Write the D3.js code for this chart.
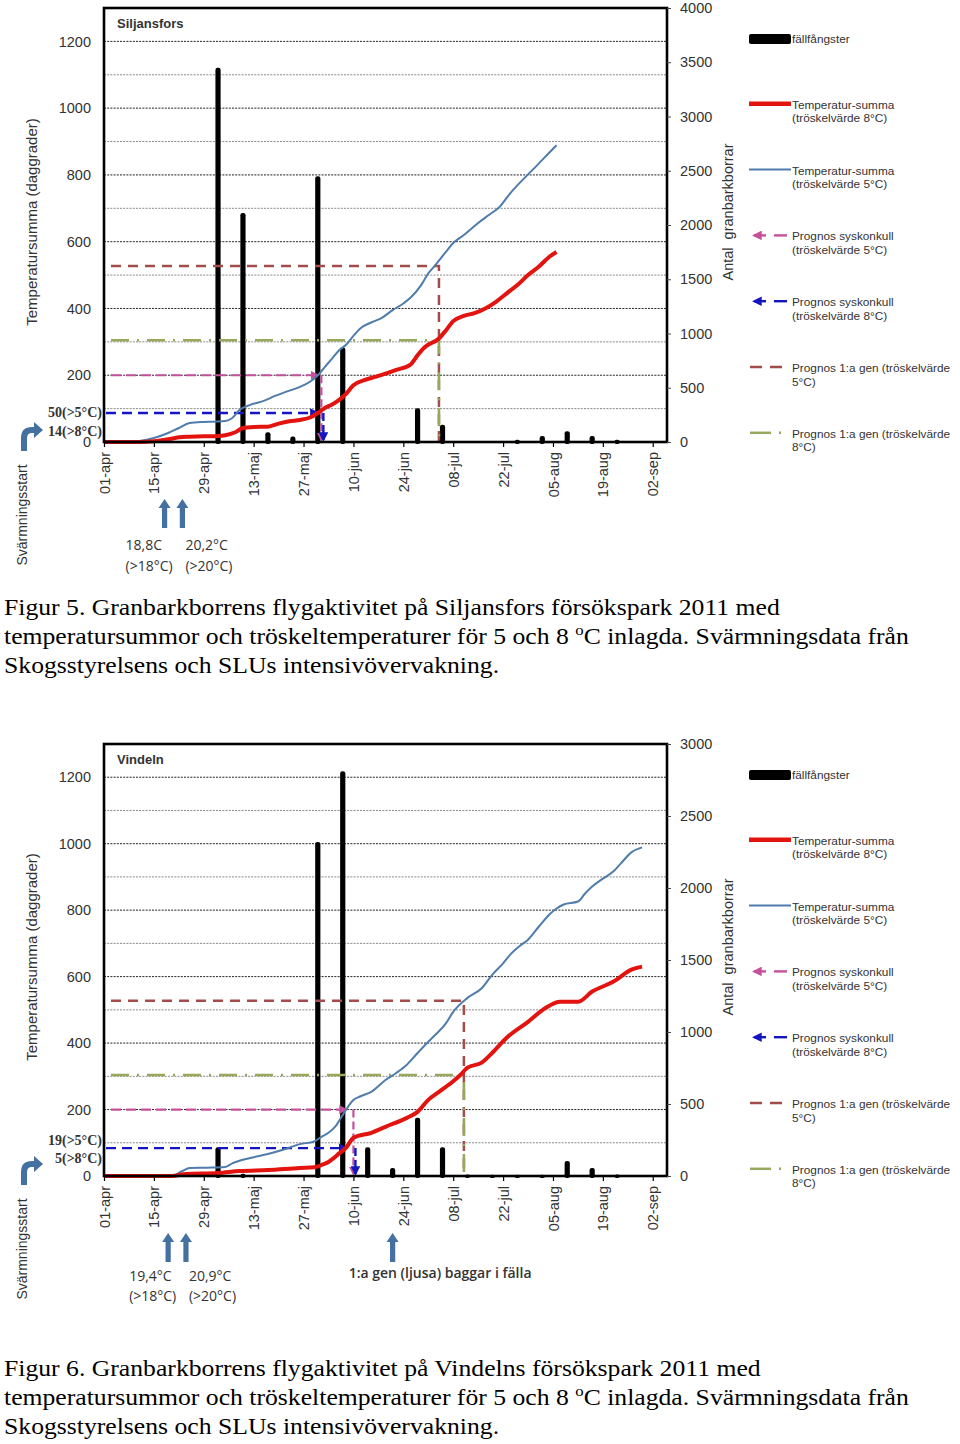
<!DOCTYPE html>
<html><head><meta charset="utf-8">
<script src="https://cdn.jsdelivr.net/npm/d3@7"></script>
<style>body{margin:0;background:#fff} svg{display:block}</style>
</head><body>
<svg id="c" width="960" height="1444"></svg>
<script>
// ---------- data ----------
const xTickLabels = ["01-apr","15-apr","29-apr","13-maj","27-maj","10-jun","24-jun","08-jul","22-jul","05-aug","19-aug","02-sep"];
const leftTicks = [0,200,400,600,800,1000,1200];
const gridValues = [100,200,300,400,500,600,700,800,900,1000,1100,1200];
const siljRightTicks = [0,500,1000,1500,2000,2500,3000,3500,4000];
const vindRightTicks = [0,500,1000,1500,2000,2500,3000];

const siljTraps = [["2011-05-03",3450],["2011-05-10",2110],["2011-05-17",90],["2011-05-24",50],["2011-05-31",2450],["2011-06-07",870],["2011-06-28",310],["2011-07-05",160],["2011-07-26",20],["2011-08-02",55],["2011-08-09",100],["2011-08-16",55],["2011-08-23",20]];
const siljTemp5 = [["2011-04-01",0],["2011-04-08",0],["2011-04-11",3],["2011-04-15",12],["2011-04-19",27],["2011-04-22",42],["2011-04-25",57],["2011-04-29",60],["2011-05-02",61],["2011-05-05",63],["2011-05-07",72],["2011-05-09",96],["2011-05-12",111],["2011-05-16",124],["2011-05-19",138],["2011-05-22",150],["2011-05-26",165],["2011-05-29",182],["2011-05-31",200],["2011-06-02",225],["2011-06-04",250],["2011-06-06",275],["2011-06-08",292],["2011-06-10",318],["2011-06-12",341],["2011-06-15",358],["2011-06-18",372],["2011-06-21",395],["2011-06-24",415],["2011-06-26",432],["2011-06-29",470],["2011-07-01",505],["2011-07-03",530],["2011-07-06",570],["2011-07-08",596],["2011-07-11",620],["2011-07-15",656],["2011-07-18",680],["2011-07-21",704],["2011-07-24",745],["2011-07-27",780],["2011-07-30",812],["2011-08-02",845],["2011-08-06",889]];
const siljTemp8 = [["2011-04-01",0],["2011-04-11",0],["2011-04-15",2],["2011-04-19",8],["2011-04-22",14],["2011-04-25",16],["2011-04-29",17],["2011-05-02",17],["2011-05-05",20],["2011-05-08",30],["2011-05-10",42],["2011-05-13",45],["2011-05-17",46],["2011-05-20",55],["2011-05-23",62],["2011-05-26",66],["2011-05-29",74],["2011-05-31",87],["2011-06-02",102],["2011-06-04",112],["2011-06-06",126],["2011-06-08",145],["2011-06-10",170],["2011-06-13",185],["2011-06-16",195],["2011-06-19",205],["2011-06-22",216],["2011-06-26",232],["2011-06-28",260],["2011-06-30",284],["2011-07-04",310],["2011-07-06",335],["2011-07-08",362],["2011-07-11",378],["2011-07-14",386],["2011-07-17",400],["2011-07-20",420],["2011-07-23",445],["2011-07-26",470],["2011-07-29",500],["2011-08-01",525],["2011-08-04",555],["2011-08-06",569]];
const siljSyskLevels = [200, 87];               // 5°C, 8°C
const siljSyskDates = ["2011-05-31","2011-06-01"]; // meets curve, drop line
const siljGen1Levels = [527, 305];              // 5°C, 8°C
const siljGen1Date = "2011-07-04";
const siljArrowDates = ["2011-04-18","2011-04-23"];
const siljArrowTexts = [["18,8C","(>18°C)"],["20,2°C","(>20°C)"]];
const siljSideLabels = ["50(>5°C)","14(>8°C)"];

const vindTraps = [["2011-05-03",200],["2011-05-10",15],["2011-05-31",2320],["2011-06-07",2810],["2011-06-14",200],["2011-06-21",55],["2011-06-28",405],["2011-07-05",200],["2011-07-12",10],["2011-07-19",8],["2011-07-26",8],["2011-08-02",8],["2011-08-09",105],["2011-08-16",55],["2011-08-23",10]];
const vindTemp5 = [["2011-04-01",0],["2011-04-20",0],["2011-04-23",15],["2011-04-25",24],["2011-04-30",25],["2011-05-05",27],["2011-05-07",38],["2011-05-12",54],["2011-05-17",66],["2011-05-21",78],["2011-05-26",96],["2011-05-30",104],["2011-06-01",118],["2011-06-03",130],["2011-06-05",150],["2011-06-07",184],["2011-06-10",229],["2011-06-12",240],["2011-06-15",253],["2011-06-19",289],["2011-06-22",310],["2011-06-25",335],["2011-06-28",370],["2011-07-01",404],["2011-07-03",425],["2011-07-06",460],["2011-07-08",494],["2011-07-12",536],["2011-07-16",565],["2011-07-19",606],["2011-07-22",640],["2011-07-24",666],["2011-07-27",695],["2011-07-29",711],["2011-08-01",750],["2011-08-04",787],["2011-08-06",805],["2011-08-08",817],["2011-08-12",826],["2011-08-14",850],["2011-08-16",871],["2011-08-19",895],["2011-08-22",917],["2011-08-24",940],["2011-08-27",974],["2011-08-30",989]];
const vindTemp8 = [["2011-04-01",0],["2011-04-20",0],["2011-04-24",6],["2011-05-03",9],["2011-05-09",15],["2011-05-17",18],["2011-05-26",24],["2011-05-30",26],["2011-06-01",33],["2011-06-03",42],["2011-06-04",50],["2011-06-06",68],["2011-06-08",86],["2011-06-10",115],["2011-06-15",130],["2011-06-19",148],["2011-06-25",175],["2011-06-28",193],["2011-07-01",229],["2011-07-04",253],["2011-07-08",285],["2011-07-10",304],["2011-07-12",326],["2011-07-16",341],["2011-07-19",371],["2011-07-23",416],["2011-07-29",464],["2011-08-03",506],["2011-08-07",524],["2011-08-12",524],["2011-08-16",555],["2011-08-22",585],["2011-08-27",621],["2011-08-30",630]];
const vindSyskLevels = [200, 84];
const vindSyskDates = ["2011-06-08","2011-06-10"];
const vindGen1Levels = [527, 304];
const vindGen1Date = "2011-07-11";
const vindArrowDates = ["2011-04-19","2011-04-24","2011-06-21"];
const vindArrowTexts = [["19,4°C","(>18°C)"],["20,9°C","(>20°C)"],["1:a gen (ljusa) baggar i fälla"]];
const vindSideLabels = ["19(>5°C)","5(>8°C)"];

const legendLabels = [["fällfångster"],["Temperatur-summa","(tröskelvärde 8°C)"],["Temperatur-summa","(tröskelvärde 5°C)"],["Prognos syskonkull","(tröskelvärde 5°C)"],["Prognos syskonkull","(tröskelvärde 8°C)"],["Prognos 1:a gen (tröskelvärde","5°C)"],["Prognos 1:a gen (tröskelvärde","8°C)"]];

const caption5 = ["Figur 5. Granbarkborrens flygaktivitet på Siljansfors försökspark 2011 med","temperatursummor och tröskeltemperaturer för 5 och 8 ","C inlagda. Svärmningsdata från","Skogsstyrelsens och SLUs intensivövervakning."];
const caption6 = ["Figur 6. Granbarkborrens flygaktivitet på Vindelns försökspark 2011 med","temperatursummor och tröskeltemperaturer för 5 och 8 ","C inlagda. Svärmningsdata från","Skogsstyrelsens och SLUs intensivövervakning."];

// ---------- helpers ----------
const monthIndex = {apr:3,maj:4,jun:5,jul:6,aug:7,sep:8};
const parseLabel = s => { const [d,m] = s.split("-"); return new Date(2011, monthIndex[m], +d); };
const parseDate = d3.timeParse("%Y-%m-%d");
const C = {red:"#e3140f", blue:"#4f7cab", pink:"#c5509c", dblue:"#1515c0", brown:"#a24c4c", green:"#97a85c", arrow:"#44719f", text:"#333"};
const SANS = "'Liberation Sans', Arial, sans-serif";

const svg = d3.select("#c");
const defs = svg.append("defs");
function marker(id, color){
  defs.append("marker").attr("id",id).attr("viewBox","0 0 10 10").attr("refX",8).attr("refY",5)
    .attr("markerWidth",4).attr("markerHeight",4).attr("orient","auto-start-reverse")
    .append("path").attr("d","M0,0 L10,5 L0,10 z").attr("fill",color);
}
marker("mPink",C.pink); marker("mBlue",C.dblue);

function drawChart(cfg){
  const {top,bottom} = cfg, left = 104, right = 667;
  const g = svg.append("g");
  const x = d3.scaleTime().domain([new Date(2011,3,1), new Date(2011,8,6)]).range([left,right]);
  const yL = d3.scaleLinear().domain([0,1300]).range([bottom,top]);
  const yR = d3.scaleLinear().domain([0,cfg.rightTicks[cfg.rightTicks.length-1]]).range([bottom,top]);
  const X = s => x(parseDate(s));

  // grid
  g.append("g").selectAll("line").data(gridValues).join("line")
    .attr("x1",left).attr("x2",right).attr("y1",d=>yL(d)).attr("y2",d=>yL(d))
    .attr("stroke",d=>d%200===0?"#222":"#8a8a8a").attr("stroke-width",1).attr("stroke-dasharray","2,1.2");

  // bars
  g.append("g").selectAll("rect").data(cfg.traps).join("rect")
    .attr("x",d=>X(d[0])-2.6).attr("width",5.2)
    .attr("y",d=>yR(d[1])).attr("height",d=>bottom-yR(d[1])+2).attr("rx",2.2).attr("fill","#000");

  // prognosis lines
  const pg = g.append("g").attr("fill","none");
  const [s5,s8] = cfg.syskLevels, [meet,drop] = cfg.syskDates;
  const [g5,g8] = cfg.gen1Levels, gx = X(cfg.gen1Date);
  pg.append("path").attr("d",`M${left+7},${yL(g5)}H${gx}V${bottom}`).attr("stroke",C.brown).attr("stroke-width",2.5).attr("stroke-dasharray","10,7");
  pg.append("path").attr("d",`M${left+7},${yL(g8)}H${gx}V${bottom}`).attr("stroke",C.green).attr("stroke-width",2.6).attr("stroke-dasharray","18,8,2,8");
  pg.append("path").attr("d",`M${left+7},${yL(s5)}H${X(meet)}`).attr("stroke",C.pink).attr("stroke-width",2.2).attr("stroke-dasharray","10,5").attr("marker-end","url(#mPink)");
  pg.append("path").attr("d",`M${X(drop)},${yL(s5)}V${bottom-2}`).attr("stroke",C.pink).attr("stroke-width",2.2).attr("stroke-dasharray","8,4").attr("marker-end","url(#mPink)");
  pg.append("path").attr("d",`M${left+2},${yL(s8)}H${X(meet)}`).attr("stroke",C.dblue).attr("stroke-width",2.4).attr("stroke-dasharray","10,6").attr("marker-end","url(#mBlue)");
  pg.append("path").attr("d",`M${X(drop)+2},${yL(s8)}V${bottom-2}`).attr("stroke",C.dblue).attr("stroke-width",2.4).attr("stroke-dasharray","8,4").attr("marker-end","url(#mBlue)");

  // temperature sums
  const line = d3.line().x(d=>X(d[0])).y(d=>yL(d[1])).curve(d3.curveMonotoneX);
  g.append("path").datum(cfg.temp5).attr("d",line).attr("fill","none").attr("stroke",C.blue).attr("stroke-width",2);
  g.append("path").datum(cfg.temp8).attr("d",line).attr("fill","none").attr("stroke",C.red).attr("stroke-width",4).attr("stroke-linejoin","round");

  // frame
  g.append("rect").attr("x",left).attr("y",top).attr("width",right-left).attr("height",bottom-top)
    .attr("fill","none").attr("stroke","#000").attr("stroke-width",2.6);

  // axes
  const ax = g.append("g").attr("transform",`translate(0,${bottom})`)
    .call(d3.axisBottom(x).tickValues(xTickLabels.map(parseLabel)).tickFormat((d,i)=>xTickLabels[i]).tickSize(5).tickPadding(4));
  ax.select(".domain").remove();
  ax.selectAll("line").attr("stroke","#000").attr("stroke-width",1.2);
  ax.selectAll("text").attr("transform","rotate(-90)").attr("text-anchor","end")
    .attr("x",-10).attr("y",0).attr("dy","0.35em").attr("font-size",14.5).attr("font-family",SANS).attr("fill",C.text);

  const al = g.append("g").attr("transform",`translate(${left},0)`)
    .call(d3.axisLeft(yL).tickValues(leftTicks).tickFormat(d3.format("d")).tickSize(0).tickPadding(13));
  al.select(".domain").remove();
  al.selectAll("text").attr("font-size",14.5).attr("font-family",SANS).attr("fill",C.text);

  const ar = g.append("g").attr("transform",`translate(${right},0)`)
    .call(d3.axisRight(yR).tickValues(cfg.rightTicks).tickFormat(d3.format("d")).tickSize(4).tickPadding(9));
  ar.select(".domain").remove();
  ar.selectAll("line").attr("stroke","#444");
  ar.selectAll("text").attr("font-size",14.5).attr("font-family",SANS).attr("fill",C.text);

  // titles
  g.append("text").attr("x",117).attr("y",top+20).text(cfg.title)
    .attr("font-family",SANS).attr("font-weight","bold").attr("font-size",13).attr("fill","#333");
  g.append("text").attr("transform",`translate(37,${(top+bottom)/2-3}) rotate(-90)`).attr("text-anchor","middle")
    .text("Temperatursumma (daggrader)").attr("font-family",SANS).attr("font-size",15).attr("fill",C.text);
  g.append("text").attr("transform",`translate(733,${(top+bottom)/2-13}) rotate(-90)`).attr("text-anchor","middle")
    .attr("xml:space","preserve").text("Antal  granbarkborrar").attr("font-family",SANS).attr("font-size",14.5).attr("fill",C.text);

  // legend
  const lx = 749;
  legendLabels.forEach((lab,i)=>{
    const cy = top + 31 + i*65.8;
    const lg = g.append("g");
    if(i===0) lg.append("rect").attr("x",lx).attr("y",cy-5).attr("width",42).attr("height",10).attr("rx",2).attr("fill","#000");
    if(i===1) lg.append("line").attr("x1",lx).attr("x2",lx+42).attr("y1",cy-1).attr("y2",cy-1).attr("stroke",C.red).attr("stroke-width",4.5);
    if(i===2) lg.append("line").attr("x1",lx).attr("x2",lx+42).attr("y1",cy-1).attr("y2",cy-1).attr("stroke",C.blue).attr("stroke-width",2);
    if(i===3||i===4){
      const col = i===3?C.pink:C.dblue;
      lg.append("line").attr("x1",lx+17).attr("x2",lx+5).attr("y1",cy-1).attr("y2",cy-1).attr("stroke",col).attr("stroke-width",2.4).attr("marker-end",`url(#${i===3?"mPink":"mBlue"})`);
      lg.append("line").attr("x1",lx+25).attr("x2",lx+38).attr("y1",cy-1).attr("y2",cy-1).attr("stroke",col).attr("stroke-width",2.4);
    }
    if(i===5) lg.append("line").attr("x1",lx+1).attr("x2",lx+38).attr("y1",cy-1).attr("y2",cy-1).attr("stroke",C.brown).attr("stroke-width",2.5).attr("stroke-dasharray","12,8");
    if(i===6){
      lg.append("line").attr("x1",lx+1).attr("x2",lx+22).attr("y1",cy-1).attr("y2",cy-1).attr("stroke",C.green).attr("stroke-width",2.5);
      lg.append("line").attr("x1",lx+30).attr("x2",lx+32).attr("y1",cy-1).attr("y2",cy-1).attr("stroke",C.green).attr("stroke-width",2.5);
    }
    const t = lg.append("text").attr("x",lx+43).attr("y",cy+4).attr("font-family",SANS).attr("font-size",11.8).attr("fill",C.text);
    lab.forEach((s,j)=>t.append("tspan").attr("x",lx+43).attr("dy",j?13.5:0).text(s));
  });

  // left-side annotations
  cfg.sideLabels.forEach((s,i)=>{
    g.append("text").attr("x",102).attr("y",bottom+cfg.sideOffsets[i]).attr("dy","0.35em").attr("text-anchor","end")
      .text(s).attr("font-family","'Liberation Serif', serif").attr("font-weight","bold").attr("font-size",14).attr("fill","#333");
  });
  // curved arrow
  g.append("path").attr("d",`M24,${bottom+9} V${bottom-4} Q24,${bottom-12} 32,${bottom-12} H35`)
    .attr("fill","none").attr("stroke",C.arrow).attr("stroke-width",6);
  g.append("path").attr("d",`M34,${bottom-20} L43,${bottom-12} L34,${bottom-4} Z`).attr("fill",C.arrow);
  g.append("text").attr("transform",`translate(27,${bottom+73}) rotate(-90)`).attr("text-anchor","middle")
    .text("Svärmningsstart").attr("font-family",SANS).attr("font-size",14).attr("fill",C.text);

  // up arrows and texts
  cfg.arrowDates.forEach((d,i)=>{
    const ax0 = X(d), y0 = bottom+57, y1 = bottom+86;
    g.append("path").attr("d",`M${ax0-2.6},${y1} V${y0+9} H${ax0-6} L${ax0},${y0} L${ax0+6},${y0+9} H${ax0+2.6} V${y1} Z`).attr("fill",C.arrow);
    const lines = cfg.arrowTexts[i];
    const off = lines.length===1 ? -44 : (i===0 ? -39 : 3);
    lines.forEach((s,j)=>{
      g.append("text").attr("x",ax0+off).attr("y",bottom+(lines.length===1?102:(j?cfg.txtB2:cfg.txtB1)))
        .text(s).attr("font-family","'Open Sans', sans-serif").attr("font-size",14)
        .attr("font-weight",lines.length===1?600:400).attr("fill","#333");
    });
  });

  // caption (horizontally widened like the source image)
  const cap = cfg.caption, cy0 = cfg.captionY;
  const ct = (y)=>g.append("text").attr("transform",`translate(4,${y}) scale(1.117,1)`).attr("font-family","'Liberation Serif', 'Times New Roman', serif").attr("font-size",23).attr("fill","#000");
  ct(cy0).text(cap[0]);
  const t2 = ct(cy0+29);
  t2.append("tspan").text(cap[1]);
  t2.append("tspan").attr("dy",-9).attr("font-size",15).text("o");
  t2.append("tspan").attr("dy",9).text(cap[2]);
  ct(cy0+58).text(cap[3]);
}

drawChart({top:8,bottom:442,title:"Siljansfors",rightTicks:siljRightTicks,traps:siljTraps,temp5:siljTemp5,temp8:siljTemp8,
  syskLevels:siljSyskLevels,syskDates:siljSyskDates,gen1Levels:siljGen1Levels,gen1Date:siljGen1Date,
  arrowDates:siljArrowDates,arrowTexts:siljArrowTexts,sideLabels:siljSideLabels,sideOffsets:[-30,-11],txtB1:108,txtB2:129,
  caption:caption5,captionY:615});
drawChart({top:744,bottom:1176,title:"Vindeln",rightTicks:vindRightTicks,traps:vindTraps,temp5:vindTemp5,temp8:vindTemp8,
  syskLevels:vindSyskLevels,syskDates:vindSyskDates,gen1Levels:vindGen1Levels,gen1Date:vindGen1Date,
  arrowDates:vindArrowDates,arrowTexts:vindArrowTexts,sideLabels:vindSideLabels,sideOffsets:[-36,-18],txtB1:105,txtB2:125,
  caption:caption6,captionY:1376});
</script></body></html>
